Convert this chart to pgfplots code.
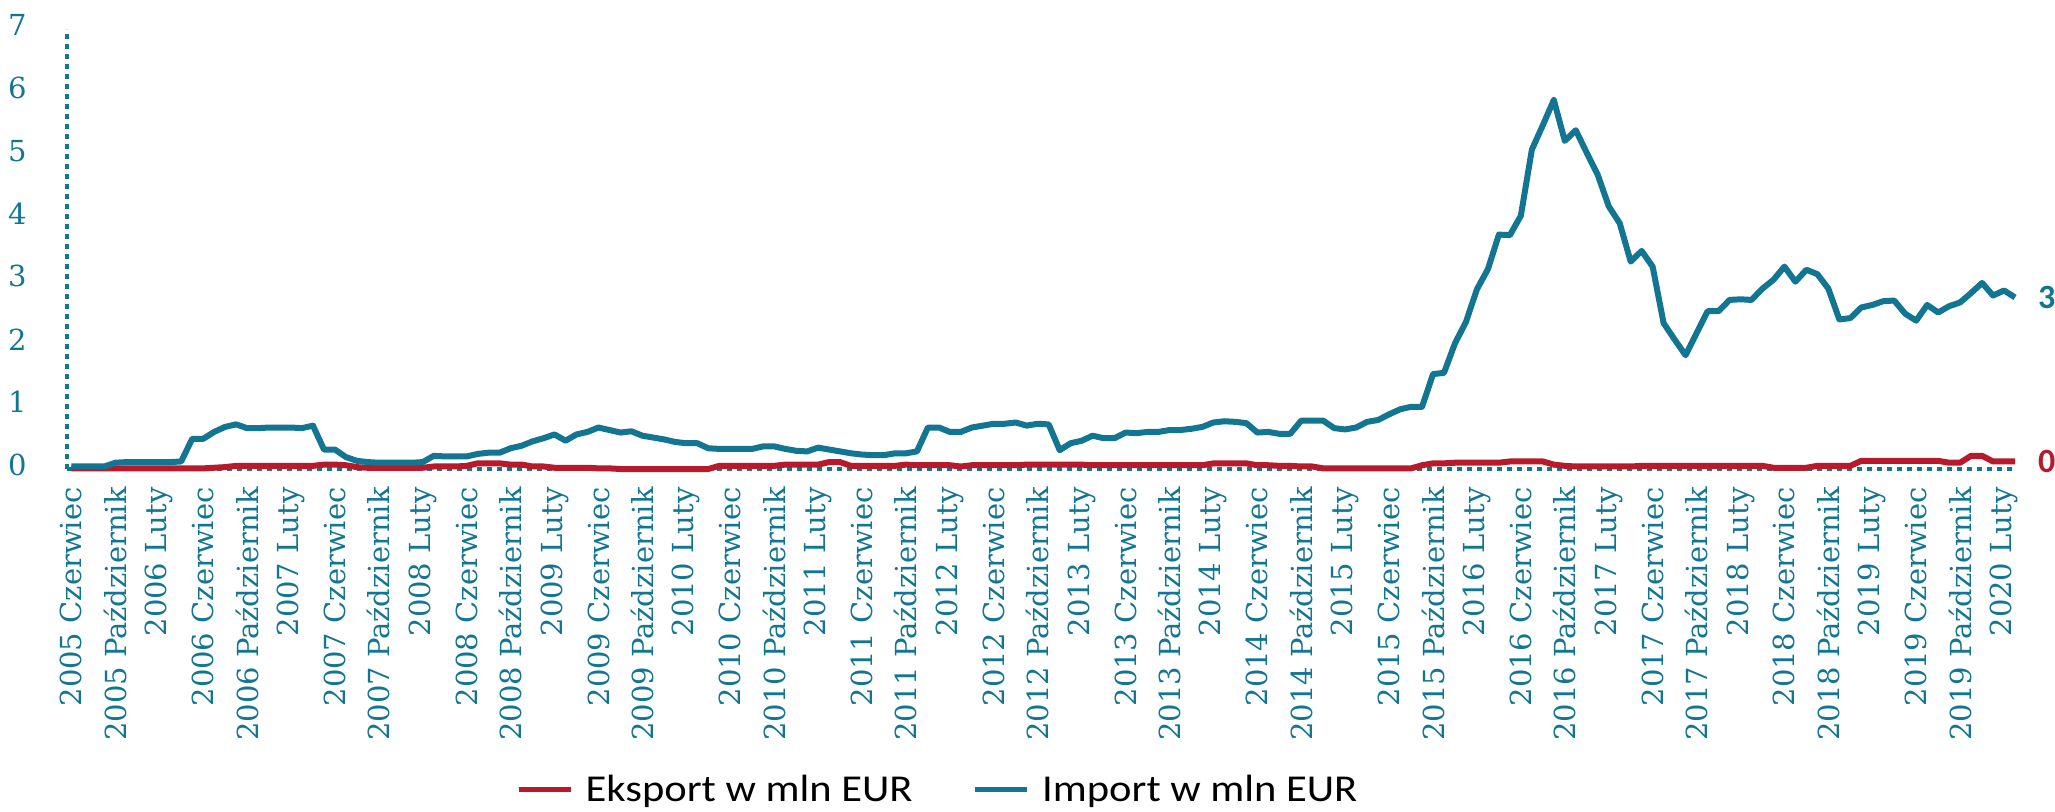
\documentclass[border=0pt]{standalone}
\usepackage{fontspec}
\setmainfont{DejaVu Serif}
\newfontfamily\legfont{Carlito}[FakeStretch=1.12]
\newfontfamily\lblfont{Carlito}
\usepackage{pgfplots}
\usepackage{pgfplotstable}
\pgfplotsset{compat=1.18}
\definecolor{tealc}{RGB}{18,117,145}
\definecolor{redc}{RGB}{183,27,43}
\pgfplotstableread{
x imp exp
0 0.04 0.01
1 0.04 0.01
2 0.04 0.01
3 0.04 0.01
4 0.10 0.01
5 0.11 0.01
6 0.11 0.01
7 0.11 0.01
8 0.11 0.01
9 0.11 0.01
10 0.12 0.01
11 0.48 0.01
12 0.48 0.01
13 0.59 0.02
14 0.67 0.03
15 0.71 0.05
16 0.65 0.05
17 0.65 0.05
18 0.66 0.05
19 0.66 0.05
20 0.66 0.05
21 0.65 0.05
22 0.69 0.05
23 0.31 0.07
24 0.31 0.07
25 0.19 0.06
26 0.13 0.03
27 0.11 0.02
28 0.10 0.02
29 0.10 0.02
30 0.10 0.02
31 0.10 0.02
32 0.11 0.02
33 0.21 0.04
34 0.20 0.04
35 0.20 0.04
36 0.20 0.05
37 0.24 0.09
38 0.26 0.09
39 0.26 0.09
40 0.33 0.07
41 0.37 0.07
42 0.44 0.04
43 0.49 0.04
44 0.55 0.02
45 0.45 0.02
46 0.55 0.02
47 0.59 0.02
48 0.66 0.01
49 0.62 0.01
50 0.58 0.00
51 0.60 0.00
52 0.53 0.00
53 0.50 0.00
54 0.47 0.00
55 0.43 0.00
56 0.41 0.00
57 0.41 0.00
58 0.33 0.00
59 0.32 0.05
60 0.32 0.05
61 0.32 0.05
62 0.32 0.05
63 0.36 0.05
64 0.36 0.05
65 0.32 0.07
66 0.29 0.07
67 0.28 0.07
68 0.34 0.07
69 0.31 0.11
70 0.28 0.11
71 0.25 0.05
72 0.23 0.05
73 0.22 0.05
74 0.22 0.05
75 0.25 0.05
76 0.25 0.07
77 0.28 0.06
78 0.66 0.06
79 0.66 0.06
80 0.59 0.06
81 0.59 0.04
82 0.66 0.06
83 0.69 0.06
84 0.72 0.06
85 0.72 0.06
86 0.74 0.06
87 0.69 0.07
88 0.72 0.07
89 0.71 0.07
90 0.30 0.07
91 0.41 0.07
92 0.45 0.07
93 0.53 0.06
94 0.49 0.06
95 0.49 0.06
96 0.58 0.06
97 0.57 0.06
98 0.59 0.06
99 0.59 0.06
100 0.62 0.06
101 0.62 0.06
102 0.64 0.06
103 0.67 0.06
104 0.74 0.09
105 0.76 0.09
106 0.75 0.09
107 0.73 0.09
108 0.58 0.06
109 0.59 0.06
110 0.56 0.05
111 0.56 0.05
112 0.77 0.04
113 0.77 0.04
114 0.77 0.01
115 0.65 0.01
116 0.63 0.01
117 0.66 0.01
118 0.75 0.01
119 0.78 0.01
120 0.87 0.01
121 0.95 0.01
122 0.99 0.01
123 0.99 0.06
124 1.51 0.09
125 1.53 0.09
126 2.00 0.10
127 2.34 0.10
128 2.86 0.10
129 3.18 0.10
130 3.73 0.10
131 3.72 0.12
132 4.03 0.12
133 5.08 0.12
134 5.47 0.12
135 5.87 0.07
136 5.22 0.05
137 5.39 0.04
138 5.03 0.04
139 4.68 0.04
140 4.18 0.04
141 3.91 0.04
142 3.30 0.04
143 3.47 0.05
144 3.22 0.05
145 2.32 0.05
146 2.06 0.05
147 1.81 0.05
148 2.16 0.05
149 2.51 0.05
150 2.51 0.05
151 2.69 0.05
152 2.70 0.05
153 2.69 0.05
154 2.87 0.05
155 3.01 0.02
156 3.22 0.02
157 2.98 0.02
158 3.17 0.02
159 3.10 0.05
160 2.87 0.05
161 2.38 0.05
162 2.40 0.05
163 2.57 0.13
164 2.61 0.13
165 2.67 0.13
166 2.68 0.13
167 2.47 0.13
168 2.36 0.13
169 2.61 0.13
170 2.49 0.13
171 2.59 0.10
172 2.65 0.10
173 2.80 0.21
174 2.96 0.21
175 2.76 0.12
176 2.84 0.12
177 2.73 0.12
}\datatab
\begin{document}
\begin{tikzpicture}
\begin{axis}[
 at={(33.5pt,171pt)}, anchor=south west,
 scale only axis, width=974pt, height=220pt,
 xmin=-0.4, xmax=177, ymin=0, ymax=7,
 axis lines*=left,
 axis line style={draw=tealc, line width=2.4pt, dash pattern=on 2.4pt off 2.6pt},
 xtick={0,4,...,176},
 xticklabels={2005 Czerwiec,2005 Październik,
 2006 Luty,2006 Czerwiec,2006 Październik,
 2007 Luty,2007 Czerwiec,2007 Październik,
 2008 Luty,2008 Czerwiec,2008 Październik,
 2009 Luty,2009 Czerwiec,2009 Październik,
 2010 Luty,2010 Czerwiec,2010 Październik,
 2011 Luty,2011 Czerwiec,2011 Październik,
 2012 Luty,2012 Czerwiec,2012 Październik,
 2013 Luty,2013 Czerwiec,2013 Październik,
 2014 Luty,2014 Czerwiec,2014 Październik,
 2015 Luty,2015 Czerwiec,2015 Październik,
 2016 Luty,2016 Czerwiec,2016 Październik,
 2017 Luty,2017 Czerwiec,2017 Październik,
 2018 Luty,2018 Czerwiec,2018 Październik,
 2019 Luty,2019 Czerwiec,2019 Październik,
 2020 Luty},
 ytick={0,1,...,7},
 major tick length=0pt,
 tick label style={text=tealc, font=\fontsize{14.5}{17}\selectfont},
 xticklabel style={rotate=90, anchor=east, inner sep=0pt},
 xticklabel shift=9pt,
 yticklabel style={anchor=east, inner sep=0pt, yshift=2pt},
 yticklabel shift=20pt,
 /pgf/number format/assume math mode=true,
 clip=false,
 legend style={at={(0.4475,-0.728)}, anchor=center, draw=none, fill=none,
   font=\legfont\fontsize{19}{21}\selectfont, legend columns=2,
   inner sep=0pt, outer sep=0pt,
   nodes={inner sep=2pt},
   /tikz/every odd column/.append style={column sep=4pt},
   /tikz/every even column/.append style={column sep=28pt}},
 legend image code/.code={\draw[#1, line width=2.8pt] (0pt,0pt) -- (26pt,0pt);},
]
\addplot[redc, line width=3pt, line join=round] table[x=x,y=exp]{\datatab}
  node[pos=1, anchor=west, inner sep=0pt, xshift=10pt, text=redc, font=\lblfont\bfseries\fontsize{17}{19}\selectfont] {0};
\addlegendentry{Eksport w mln EUR}
\addplot[tealc, line width=3pt, line join=round] table[x=x,y=imp]{\datatab}
  node[pos=1, anchor=west, inner sep=0pt, xshift=10pt, text=tealc, font=\lblfont\bfseries\fontsize{17}{19}\selectfont] {3};
\addlegendentry{Import w mln EUR}
\end{axis}
\pgfresetboundingbox
\useasboundingbox (0,0) rectangle (1027.5pt,405.5pt);
\end{tikzpicture}
\end{document}
